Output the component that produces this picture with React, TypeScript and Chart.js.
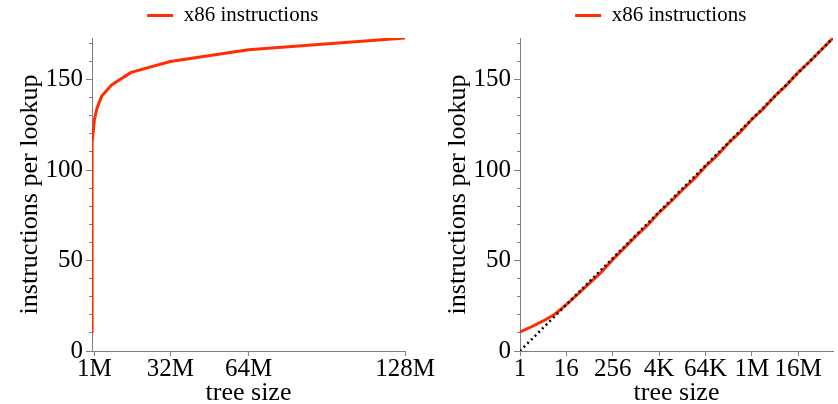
import React, { useEffect, useRef } from 'react';
import { Chart, registerables } from 'chart.js';

Chart.register(...registerables);

// ---- data ----
const treeSizes = [
  1, 2, 4, 8, 16, 32, 64, 128, 256, 512, 1024, 2048, 4096, 8192, 16384, 32768,
  65536, 131072, 262144, 524288, 1048576, 2097152, 4194304, 8388608, 16777216,
  33554432, 67108864, 134217728,
];
const x86Instructions = [
  10.5, 13.4, 16.6, 20.3, 25.6, 31.5, 37.5, 43.5, 50.5, 57, 63.5, 69.5, 76.5,
  82.5, 89, 95, 102, 108, 115, 121, 128, 134, 141, 147, 154, 160, 166.5, 173,
];
const referenceSizes = [1, 134217728];
const referenceInstructions = [0, 173];

const seriesName = 'x86 instructions';
const xTitle = 'tree size';
const yTitle = 'instructions per lookup';

const linearTickValues = [1048576, 33554432, 67108864, 134217728];
const linearTickLabels = ['1M', '32M', '64M', '128M'];
const logTickValues = [1, 16, 256, 4096, 65536, 1048576, 16777216];
const logTickLabels = ['1', '16', '256', '4K', '64K', '1M', '16M'];
const yMajorTicks = [0, 50, 100, 150];
const yMinorTicks = [10, 20, 30, 40, 60, 70, 80, 90, 110, 120, 130, 140, 160, 170];
const yMax = 173;
const xMax = 134217728;

// ---- style ----
const FONT = "'Liberation Serif', 'Times New Roman', serif";
const RED = '#ff2d00';
const AXIS = '#808080';

function makeConfig(log: boolean): any {
  const tickVals = log ? logTickValues : linearTickValues;
  const tickLabels = log ? logTickLabels : linearTickLabels;
  const datasets: any[] = [
    {
      label: seriesName,
      data: treeSizes.map((s, i) => ({ x: s, y: x86Instructions[i] })),
      borderColor: RED,
      backgroundColor: RED,
      borderWidth: 3,
      pointRadius: 0,
      tension: 0,
      borderJoinStyle: 'round',
      order: 1,
    },
  ];
  if (log) {
    datasets.push({
      label: 'reference',
      data: referenceSizes.map((s, i) => ({ x: s, y: referenceInstructions[i] })),
      borderColor: '#000',
      backgroundColor: '#000',
      borderWidth: 2.5,
      borderDash: [2, 3.2],
      pointRadius: 0,
      tension: 0,
      order: 0,
    });
  }
  return {
    type: 'line',
    data: { datasets },
    options: {
      animation: false,
      responsive: false,
      maintainAspectRatio: false,
      events: [],
      layout: { padding: { left: 0, top: 0, bottom: 0, right: log ? 5 : 35 } },
      plugins: {
        legend: {
          display: true,
          position: 'top',
          align: 'center',
          fullSize: false,
          labels: {
            usePointStyle: true,
            pointStyle: 'line',
            pointStyleWidth: 26,
            padding: 5,
            color: '#000',
            font: { family: FONT, size: 21 },
            generateLabels: (chart: any) =>
              Chart.defaults.plugins.legend.labels
                .generateLabels(chart)
                .map((l: any) => ({ ...l, text: l.text + '      ' })),
            filter: (item: any) => item.datasetIndex === 0,
          },
        },
        subtitle: {
          display: true,
          text: '',
          weight: 500,
          font: { size: 1, lineHeight: 0 },
          padding: { top: 0, bottom: 2 },
        },
        title: { display: false },
        tooltip: { enabled: false },
      },
      scales: {
        x: {
          type: log ? 'logarithmic' : 'linear',
          min: log ? 1 : 0,
          max: xMax,
          afterBuildTicks: (s: any) => {
            s.ticks = tickVals.map((v) => ({ value: v }));
          },
          afterFit: (s: any) => {
            s.height = 53;
          },
          grid: { drawOnChartArea: false, drawTicks: true, tickLength: 5, color: AXIS },
          border: { display: true, color: AXIS, width: 1 },
          ticks: {
            autoSkip: false,
            maxRotation: 0,
            minRotation: 0,
            padding: 1,
            color: '#000',
            font: { family: FONT, size: 25, lineHeight: 1 },
            callback: (_v: any, i: number) => tickLabels[i],
          },
          title: {
            display: true,
            text: xTitle,
            color: '#000',
            font: { family: FONT, size: 26, lineHeight: 1 },
            padding: { top: 0, bottom: -2 },
          },
        },
        y: {
          type: 'linear',
          position: 'left',
          min: 0,
          max: yMax,
          afterBuildTicks: (s: any) => {
            s.ticks = yMajorTicks.map((v) => ({ value: v }));
          },
          afterFit: (s: any) => {
            s.width = 92;
          },
          grid: { drawOnChartArea: false, drawTicks: true, tickLength: 6, color: AXIS },
          border: { display: true, color: AXIS, width: 1 },
          ticks: {
            autoSkip: false,
            padding: 3,
            color: '#000',
            font: { family: FONT, size: 25 },
            callback: (v: any) => String(v),
          },
          title: {
            display: true,
            text: yTitle,
            color: '#000',
            font: { family: FONT, size: 26, lineHeight: 1 },
            padding: { top: 17, bottom: 0 },
          },
        },
        yMinor: {
          type: 'linear',
          axis: 'y',
          position: { x: log ? 1 : 0 },
          min: 0,
          max: yMax,
          afterBuildTicks: (s: any) => {
            s.ticks = yMinorTicks.map((v) => ({ value: v }));
          },
          grid: { drawOnChartArea: false, drawTicks: true, tickLength: 3, color: AXIS },
          border: { display: false },
          ticks: { display: false },
        },
      },
    },
  };
}

function ChartCanvas({ log, left, width }: { log: boolean; left: number; width: number }) {
  const ref = useRef<HTMLCanvasElement>(null);
  useEffect(() => {
    if (!ref.current) return;
    const chart = new Chart(ref.current, makeConfig(log));
    return () => chart.destroy();
  }, [log]);
  return (
    <canvas
      ref={ref}
      width={width}
      height={404}
      style={{ position: 'absolute', left, top: 0, width, height: 404 }}
    />
  );
}

export default function App() {
  return (
    <div
      style={{
        position: 'fixed',
        left: 0,
        top: 0,
        width: 838,
        height: 404,
        background: '#fff',
        overflow: 'hidden',
      }}
    >
      <ChartCanvas log={false} left={0} width={440} />
      <ChartCanvas log={true} left={428} width={410} />
    </div>
  );
}
